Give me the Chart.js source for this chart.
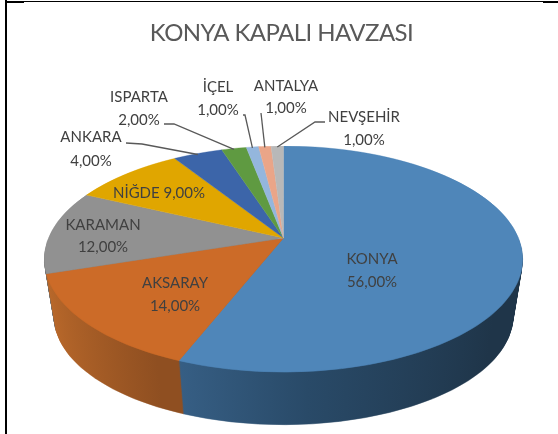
<!DOCTYPE html>
<html>
<head>
<meta charset="utf-8">
<script src="https://cdn.jsdelivr.net/npm/chart.js@4"></script>
<style>
  html, body { margin: 0; padding: 0; background: #fff; overflow: hidden; }
  #wrap { position: relative; width: 558px; height: 434px; }
  canvas { position: absolute; left: 0; top: 0; filter: blur(0.35px); }
  .rule { position: absolute; background: #000; }
</style>
</head>
<body>
<div id="wrap">
  <canvas id="pieChart" width="558" height="434"></canvas>
  <div class="rule" style="left:5px;top:0;width:2px;height:434px"></div>
  <div class="rule" style="left:5px;top:1px;width:19px;height:2px"></div>
  <div class="rule" style="left:24px;top:1px;width:519px;height:1px"></div>
  <div class="rule" style="left:543px;top:1px;width:15px;height:2px"></div>
</div>
<script>
const categories = ["KONYA", "AKSARAY", "KARAMAN", "NİĞDE", "ANKARA", "ISPARTA", "İÇEL", "ANTALYA", "NEVŞEHİR"];
const shares = [56, 14, 12, 9, 4, 2, 1, 1, 1];
const topColors = ["#4f86b9", "#cc6b28", "#919191", "#e0a600", "#3c65a9", "#5f9a41", "#94b6dd", "#eaa588", "#b8b8b8"];

// where each label sits: [x, first line y, second line y], second null = one line
const labelSpots = [
  [372, 259, 282], [175, 283, 306], [103, 225, 247], [159, 193, null], [91, 137, 161],
  [139, 97, 120], [218, 87, 110], [286, 86, 108], [364, 117, 140]
];
// leader lines start next to the label, end on the slice rim
const leaderStarts = {
  4: [[126, 143], [142, 144]],
  5: [[164, 124], [174, 124]],
  6: [[243, 115], [245, 115]],
  7: [[261, 113]],
  8: [[325, 122], [315, 122]]
};

// perspective of the tilted pie
const view = { cx: 283.5, cy: 238, a: 235, b: 109.1, k: -0.186, depth: 58, shrink: 0.04 };

function project(angle) {
  const u = Math.cos(angle), v = Math.sin(angle);
  const w = 1 + view.k * v;
  return [view.cx + view.a * u / w, view.cy + view.b * v / w];
}

function drawRows(chart, arcs, scale, offset) {
  const ctx = chart.ctx;
  const a = view.a * scale, b = view.b * scale, cy = view.cy + offset;
  const first = arcs[0];
  const R = first.outerRadius, sx = first.x, sy = first.y;
  const top = offset > 0 ? Math.floor(cy) : Math.floor(cy - b / (1 - view.k));
  const bottom = Math.ceil(cy + b / (1 + view.k));
  for (let y = top; y <= bottom; y++) {
    const d = y + 0.5 - cy;
    const v = d / (b - view.k * d);
    const w = 1 + view.k * v;
    const xs = a / (R * w), ys = b / (w * w * R);
    ctx.save();
    ctx.setTransform(1, 0, 0, 1, 0, 0);
    ctx.beginPath();
    ctx.rect(0, y, chart.width, 1);
    ctx.clip();
    ctx.setTransform(xs, 0, 0, ys, view.cx - sx * xs, y + 0.5 - (sy + R * v) * ys);
    arcs.forEach(arc => arc.draw(ctx));
    ctx.restore();
  }
}

const tiltedPie = {
  id: "tiltedPie",
  beforeDraw(chart) {
    // the title font runs wider than the original, pull the letters in
    chart.ctx.letterSpacing = "-0.58px";
  },
  beforeDatasetsDraw(chart) {
    const ctx = chart.ctx;
    const arcs = chart.getDatasetMeta(0).data;
    const R = arcs[0].outerRadius, x0 = arcs[0].x;

    const blueWall = ctx.createLinearGradient(x0 - R * 0.5, 0, x0 + R * 0.8, 0);
    blueWall.addColorStop(0, "#3a648c");
    blueWall.addColorStop(0.45, "#294a68");
    blueWall.addColorStop(1, "#1f3549");
    const orangeWall = ctx.createLinearGradient(x0 - R, 0, x0 - R * 0.45, 0);
    orangeWall.addColorStop(0, "#bc6a2b");
    orangeWall.addColorStop(1, "#8f4f21");
    const wallFills = [blueWall, orangeWall, "#6d6d6d"];

    // side wall: stack of darker copies of the front slices, bottom one first
    const front = arcs.slice(0, 3);
    const saved = front.map(arc => arc.options);
    front.forEach((arc, i) => {
      arc.options = Object.assign({}, arc.options, { backgroundColor: wallFills[i], borderColor: wallFills[i] });
    });
    for (let d = view.depth; d > 0; d--) {
      drawRows(chart, front, 1 - view.shrink * d / view.depth, d);
    }
    front.forEach((arc, i) => { arc.options = saved[i]; });

    drawRows(chart, arcs, 1, 0);
    return false;
  },
  afterDraw(chart) {
    const ctx = chart.ctx;
    const arcs = chart.getDatasetMeta(0).data;

    ctx.save();
    ctx.letterSpacing = "0px";
    ctx.strokeStyle = "#595959";
    ctx.lineWidth = 1.3;
    Object.keys(leaderStarts).forEach(key => {
      const arc = arcs[key];
      const end = project((arc.startAngle + arc.endAngle) / 2);
      ctx.beginPath();
      leaderStarts[key].forEach((p, i) => i ? ctx.lineTo(p[0], p[1]) : ctx.moveTo(p[0], p[1]));
      ctx.lineTo(end[0], end[1] + 1);
      ctx.stroke();
    });

    ctx.fillStyle = "#404040";
    ctx.font = "15px Lato";
    ctx.textAlign = "center";
    ctx.textBaseline = "middle";
    categories.forEach((name, i) => {
      const spot = labelSpots[i];
      const pct = shares[i].toFixed(2).replace(".", ",") + "%";
      if (spot[2] === null) {
        ctx.fillText(name + " " + pct, spot[0], spot[1]);
      } else {
        ctx.fillText(name, spot[0], spot[1]);
        ctx.fillText(pct, spot[0], spot[2]);
      }
    });
    ctx.restore();
  }
};

new Chart(document.getElementById("pieChart").getContext("2d"), {
  type: "pie",
  data: {
    labels: categories,
    datasets: [{
      data: shares,
      backgroundColor: topColors,
      borderColor: topColors,
      borderWidth: 0.5
    }]
  },
  options: {
    responsive: false,
    animation: false,
    layout: { padding: { left: 5 } },
    plugins: {
      legend: { display: false },
      tooltip: { enabled: false },
      title: {
        display: true,
        text: "KONYA KAPALI HAVZASI",
        color: "#595959",
        font: { family: "Lato", size: 24, weight: "normal" },
        padding: { top: 19, bottom: 10 }
      }
    }
  },
  plugins: [tiltedPie]
});
</script>
</body>
</html>
